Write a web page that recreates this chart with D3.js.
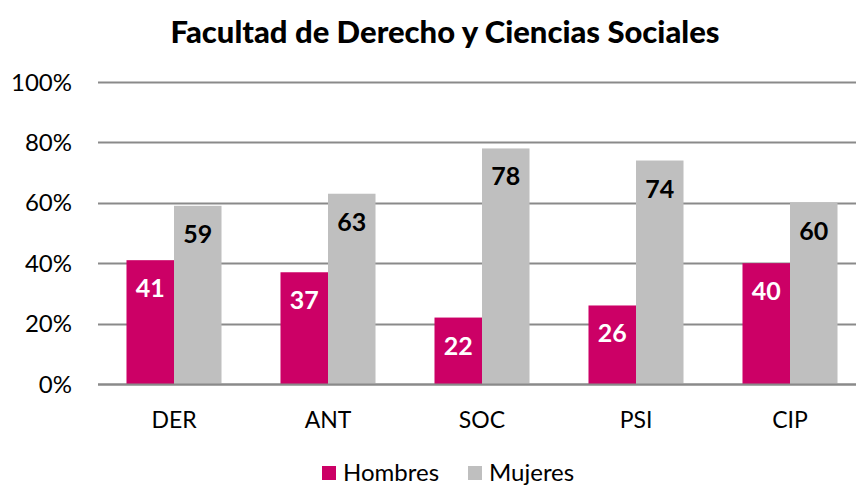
<!DOCTYPE html>
<html>
<head>
<meta charset="utf-8">
<script src="https://cdn.jsdelivr.net/npm/d3@7"></script>
<style>
  body { margin: 0; background: #fff; }
  svg { display: block; font-family: Lato, "Open Sans", sans-serif; }
</style>
</head>
<body>
<svg id="chart" width="856" height="487"></svg>
<script>
// Data
const categories = ['DER', 'ANT', 'SOC', 'PSI', 'CIP'];
const series = ['Hombres', 'Mujeres'];
const hombres = [41, 37, 22, 26, 40];
const mujeres = [59, 63, 78, 74, 60];
const yTicks = [0, 20, 40, 60, 80, 100];
const title = 'Facultad de Derecho y Ciencias Sociales';

const colors = { Hombres: '#CC0066', Mujeres: '#BFBFBF' };
const labelColors = { Hombres: '#FFFFFF', Mujeres: '#000000' };

const svg = d3.select('#chart');
const plot = { left: 97, right: 867, top: 82, bottom: 384 };

const x0 = d3.scaleBand()
    .domain(categories)
    .range([plot.left, plot.right])
    .paddingInner(0.383)
    .paddingOuter(0.1915);

const x1 = d3.scaleBand()
    .domain(series)
    .range([0, x0.bandwidth()]);

const y = d3.scaleLinear()
    .domain([0, 100])
    .range([plot.bottom, plot.top]);

// gridlines
svg.append('g')
    .selectAll('line')
    .data(yTicks)
    .join('line')
    .attr('x1', 98)
    .attr('x2', plot.right)
    .attr('y1', d => Math.round(y(d)) + 0.5)
    .attr('y2', d => Math.round(y(d)) + 0.5)
    .attr('stroke', '#8a8a8a')
    .attr('stroke-width', 2);

// y axis labels
svg.append('g')
    .selectAll('text')
    .data(yTicks)
    .join('text')
    .attr('x', 72)
    .attr('y', d => y(d))
    .attr('dy', '0.36em')
    .attr('text-anchor', 'end')
    .attr('font-size', 24)
    .attr('fill', '#000')
    .text(d => d + '%');

const rows = categories.map((c, i) => ({
    cat: c,
    values: [
        { key: 'Hombres', value: hombres[i] },
        { key: 'Mujeres', value: mujeres[i] }
    ]
}));

const groups = svg.append('g')
    .selectAll('g')
    .data(rows)
    .join('g')
    .attr('transform', d => `translate(${x0(d.cat)},0)`);

groups.selectAll('rect')
    .data(d => d.values)
    .join('rect')
    .attr('x', d => x1(d.key))
    .attr('y', d => y(d.value))
    .attr('width', x1.bandwidth())
    .attr('height', d => y(0) - y(d.value))
    .attr('fill', d => colors[d.key]);

groups.selectAll('text')
    .data(d => d.values)
    .join('text')
    .attr('x', d => x1(d.key) + x1.bandwidth() / 2)
    .attr('y', d => y(d.value) + 37)
    .attr('text-anchor', 'middle')
    .attr('font-size', 25)
    .attr('font-weight', 'bold')
    .attr('fill', d => labelColors[d.key])
    .text(d => d.value);

// baseline redrawn over bars
svg.append('line')
    .attr('x1', 98)
    .attr('x2', plot.right)
    .attr('y1', Math.round(y(0)) + 0.5)
    .attr('y2', Math.round(y(0)) + 0.5)
    .attr('stroke', '#8a8a8a')
    .attr('stroke-width', 2);

// category labels
svg.append('g')
    .selectAll('text')
    .data(categories)
    .join('text')
    .attr('x', d => x0(d) + x0.bandwidth() / 2)
    .attr('y', 428)
    .attr('text-anchor', 'middle')
    .attr('font-size', 23)
    .attr('fill', '#000')
    .text(d => d);

// title
svg.append('text')
    .attr('x', 445)
    .attr('y', 43)
    .attr('text-anchor', 'middle')
    .attr('font-size', 31)
    .attr('font-weight', 900)
    .attr('fill', '#000')
    .text(title);

// legend
const legendPos = [322, 468];
const legend = svg.append('g')
    .selectAll('g')
    .data(series)
    .join('g')
    .attr('transform', (d, i) => `translate(${legendPos[i]},466)`);

legend.append('rect')
    .attr('width', 14)
    .attr('height', 14)
    .attr('fill', d => colors[d]);

legend.append('text')
    .attr('x', 21)
    .attr('y', 15)
    .attr('font-size', 24)
    .attr('fill', '#000')
    .text(d => d);
</script>
</body>
</html>
